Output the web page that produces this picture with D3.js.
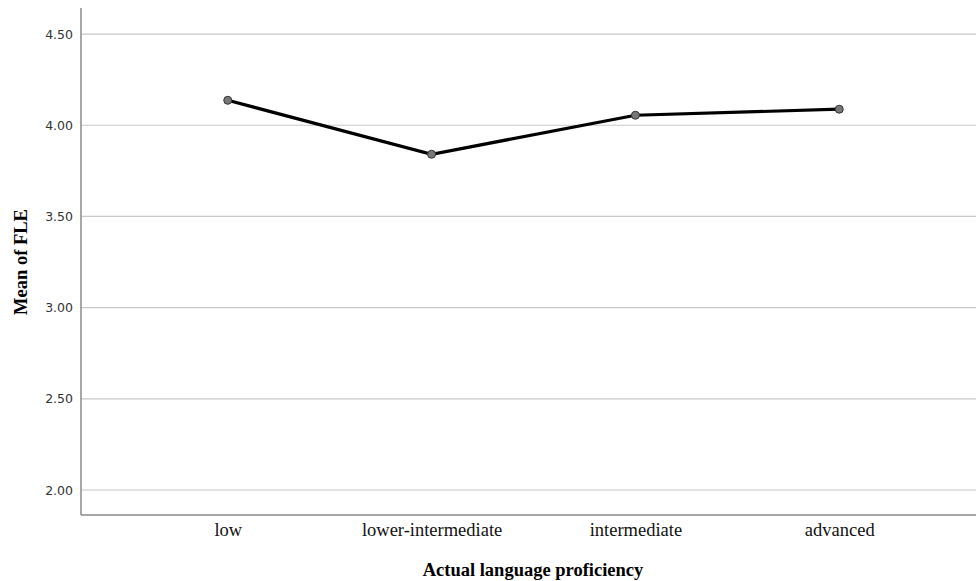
<!DOCTYPE html>
<html><head><meta charset="utf-8">
<script src="https://cdn.jsdelivr.net/npm/d3@7"></script>
<style>body{margin:0;background:#fff}svg{display:block}</style>
</head><body>
<script>
const categories = ["low", "lower-intermediate", "intermediate", "advanced"];
const means = [4.137, 3.841, 4.055, 4.088];
const yTicks = [2.0, 2.5, 3.0, 3.5, 4.0, 4.5];

(function () {
const W = 976, H = 581;
const mLeft = 81, mBottom = 515, mTop = 8, mRight = 976;
const svg = d3.select("body").append("svg").attr("width", W).attr("height", H);

const y = d3.scaleLinear().domain([1.863, 4.643]).range([mBottom, mTop]);
const x = d3.scalePoint().domain(categories).range([mLeft, 986]).padding(0.72);

// gridlines
svg.append("g").selectAll("line").data(yTicks).join("line")
  .attr("x1", mLeft).attr("x2", mRight)
  .attr("y1", d => y(d)).attr("y2", d => y(d))
  .attr("stroke", "#c8c8c8").attr("stroke-width", 1.2);

// y axis
const ya = svg.append("g").attr("transform", `translate(${mLeft},0)`)
  .call(d3.axisLeft(y).tickValues(yTicks).tickFormat(d3.format(".2f")).tickSize(0).tickPadding(8));
ya.select(".domain").remove();
ya.selectAll("text").attr("font-family", "DejaVu Sans, sans-serif").attr("font-size", 12.5).attr("fill", "#333");
svg.append("line").attr("x1", mLeft).attr("x2", mLeft).attr("y1", mTop).attr("y2", mBottom)
  .attr("stroke", "#8a8a8a").attr("stroke-width", 1.5);

// x axis
const xa = svg.append("g").attr("transform", `translate(0,${mBottom})`)
  .call(d3.axisBottom(x).tickSize(0).tickPadding(8));
xa.select(".domain").remove();
xa.selectAll("text").attr("font-family", "Liberation Serif, serif").attr("font-size", 18.5).attr("fill", "#111");
svg.append("line").attr("x1", mLeft).attr("x2", mRight).attr("y1", mBottom).attr("y2", mBottom)
  .attr("stroke", "#8a8a8a").attr("stroke-width", 1.5);

// line
const pts = categories.map((c, i) => ({c, v: means[i]}));
svg.append("path").datum(pts)
  .attr("d", d3.line().x(d => x(d.c)).y(d => y(d.v)))
  .attr("fill", "none").attr("stroke", "#000").attr("stroke-width", 3.2);
svg.append("g").selectAll("circle").data(pts).join("circle")
  .attr("cx", d => x(d.c)).attr("cy", d => y(d.v)).attr("r", 4)
  .attr("fill", "#777").attr("stroke", "#333").attr("stroke-width", 1);

// titles
svg.append("text").attr("x", 533).attr("y", 576).attr("text-anchor", "middle")
  .attr("font-family", "Liberation Serif, serif").attr("font-weight", "bold").attr("font-size", 18.5)
  .text("Actual language proficiency");
svg.append("text").attr("transform", `translate(27,262) rotate(-90)`).attr("text-anchor", "middle")
  .attr("font-family", "Liberation Serif, serif").attr("font-weight", "bold").attr("font-size", 18.5)
  .text("Mean of FLE");
})();
</script>
</body></html>
